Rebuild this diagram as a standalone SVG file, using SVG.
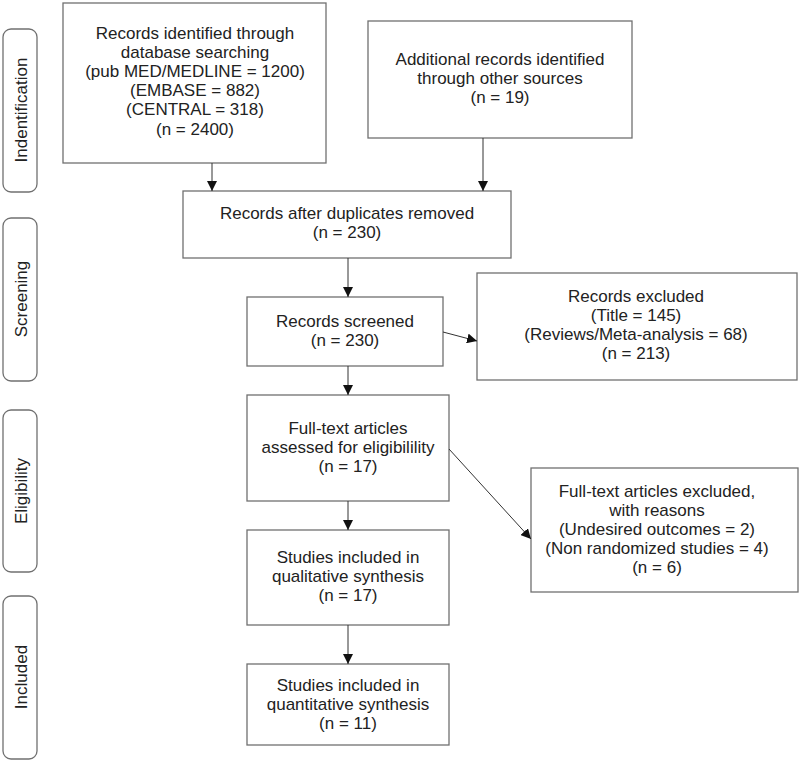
<svg xmlns="http://www.w3.org/2000/svg" width="800" height="761" viewBox="0 0 800 761">
<defs>
<style>
.box{fill:#fff;stroke:#707070;stroke-width:1.3}
.side{fill:#fff;stroke:#707070;stroke-width:1.3}
text{font-family:"Liberation Sans",Arial,sans-serif;font-size:17px;fill:#222;text-anchor:middle}
.con{stroke:#333;stroke-width:1;fill:none;marker-end:url(#ah)}
</style>
<marker id="ah" viewBox="0 0 10 10" refX="10" refY="5" markerWidth="10" markerHeight="10" markerUnits="userSpaceOnUse" orient="auto">
<path d="M0,0 L10,5 L0,10 z" fill="#111"/>
</marker>
</defs>
<rect width="800" height="761" fill="#fff"/>
<g id="side-identification"><rect class="side" x="3" y="29" width="34" height="163" rx="8"/><text transform="translate(26.5,110) rotate(-90)">Indentification</text></g>
<g id="side-screening"><rect class="side" x="3" y="218" width="34" height="163" rx="8"/><text transform="translate(26.5,299) rotate(-90)">Screening</text></g>
<g id="side-eligibility"><rect class="side" x="3" y="410" width="34" height="162" rx="8"/><text transform="translate(26.5,491) rotate(-90)">Eligibility</text></g>
<g id="side-included"><rect class="side" x="3" y="596" width="34" height="163" rx="8"/><text transform="translate(26.5,677) rotate(-90)">Included</text></g>

<g id="n1"><rect class="box" x="63" y="3" width="263" height="160"/>
<text x="195" y="39">Records identified through</text>
<text x="195" y="58">database searching</text>
<text x="195" y="77">(pub MED/MEDLINE = 1200)</text>
<text x="195" y="96">(EMBASE = 882)</text>
<text x="195" y="115">(CENTRAL = 318)</text>
<text x="195" y="135">(n = 2400)</text></g>
<g id="n2"><rect class="box" x="368" y="21" width="264" height="117"/>
<text x="500" y="65">Additional records identified</text>
<text x="500" y="84">through other sources</text>
<text x="500" y="103">(n = 19)</text></g>
<g id="n3"><rect class="box" x="183" y="191" width="328" height="67"/>
<text x="347" y="219">Records after duplicates removed</text>
<text x="347" y="238">(n = 230)</text></g>
<g id="n4"><rect class="box" x="247" y="297" width="196" height="69"/>
<text x="345" y="327">Records screened</text>
<text x="345" y="346">(n = 230)</text></g>
<g id="n5"><rect class="box" x="477" y="273" width="320" height="107"/>
<text x="636" y="302">Records excluded</text>
<text x="636" y="321">(Title = 145)</text>
<text x="636" y="340">(Reviews/Meta-analysis = 68)</text>
<text x="636" y="359">(n = 213)</text></g>
<g id="n6"><rect class="box" x="247" y="395" width="202" height="106"/>
<text x="348" y="434">Full-text articles</text>
<text x="348" y="453">assessed for eligibilility</text>
<text x="348" y="472">(n = 17)</text></g>
<g id="n7"><rect class="box" x="531" y="468" width="267" height="124"/>
<text x="657" y="497">Full-text articles excluded,</text>
<text x="657" y="516">with reasons</text>
<text x="657" y="535">(Undesired outcomes = 2)</text>
<text x="657" y="554">(Non randomized studies = 4)</text>
<text x="657" y="573">(n = 6)</text></g>
<g id="n8"><rect class="box" x="247" y="530" width="202" height="95"/>
<text x="348" y="563">Studies included in</text>
<text x="348" y="582">qualitative synthesis</text>
<text x="348" y="601">(n = 17)</text></g>
<g id="n9"><rect class="box" x="247" y="664" width="202" height="81"/>
<text x="348" y="691">Studies included in</text>
<text x="348" y="710">quantitative synthesis</text>
<text x="348" y="729">(n = 11)</text></g>

<g id="connectors">
<line class="con" x1="212" y1="163" x2="212" y2="191"/>
<line class="con" x1="483" y1="138" x2="483" y2="191"/>
<line class="con" x1="348" y1="258" x2="348" y2="297"/>
<line class="con" x1="443" y1="332" x2="477" y2="341"/>
<line class="con" x1="348" y1="366" x2="348" y2="395"/>
<line class="con" x1="449" y1="449" x2="531" y2="539"/>
<line class="con" x1="348" y1="501" x2="348" y2="530"/>
<line class="con" x1="348" y1="625" x2="348" y2="664"/>
</g>
</svg>
